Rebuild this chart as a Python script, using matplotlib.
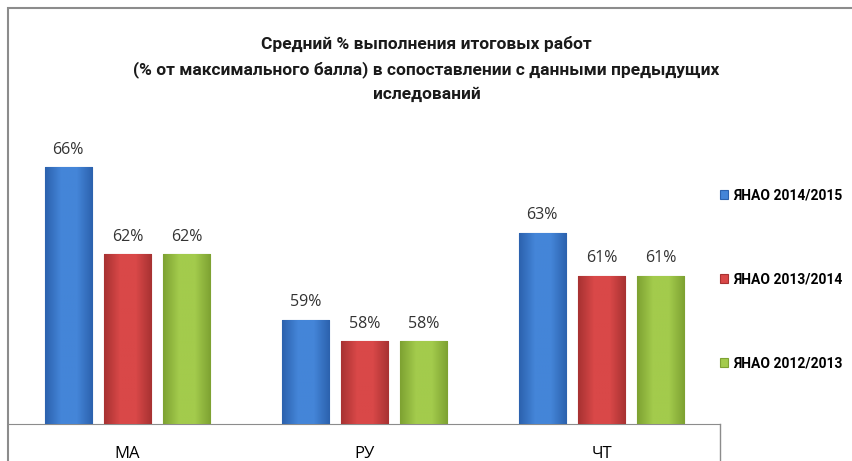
import matplotlib.pyplot as plt
import numpy as np
from matplotlib.colors import LinearSegmentedColormap
from matplotlib.patches import Rectangle
from matplotlib.lines import Line2D

# data
categories = ['МА', 'РУ', 'ЧТ']
series_names = ['ЯНАО 2014/2015', 'ЯНАО 2013/2014', 'ЯНАО 2012/2013']
values_2015 = [66, 59, 63]
values_2014 = [62, 58, 61]
values_2013 = [62, 58, 61]
series_values = [values_2015, values_2014, values_2013]

# (edge, middle) colours of each series
colors = [('#2C62AE', '#4485D8'), ('#A83232', '#D94848'), ('#7EA232', '#A3CB4C')]

title = ('Средний % выполнения итоговых работ\n'
         '(% от максимального балла) в сопоставлении с данными предыдущих\n'
         'иследований')

plt.rcParams['font.family'] = ['Roboto', 'DejaVu Sans']

fig = plt.figure(figsize=(8.53, 4.61), dpi=100)
ax = fig.add_axes([9 / 853, 37 / 461, 711 / 853, 324 / 461])

ymin, ymax = 54.2, 69.1
x = np.arange(len(categories))
width = 0.2
offsets = [-0.25, 0, 0.25]

for vals, off, (dark, light), name in zip(series_values, offsets, colors, series_names):
    bars = ax.bar(x + off, vals, width, color=light, label=name,
                  edgecolor=dark, linewidth=0.8, zorder=2)
    cmap = LinearSegmentedColormap.from_list('g', [dark, light, light, dark])
    grad = np.linspace(0, 1, 64).reshape(1, -1)
    for b, v in zip(bars, vals):
        x0 = b.get_x()
        im = ax.imshow(grad, cmap=cmap, aspect='auto', zorder=3,
                       extent=(x0, x0 + b.get_width(), ymin, b.get_height()))
        im.set_clip_path(b)
        ax.annotate(f'{v}%', (b.get_x() + b.get_width() / 2, v),
                    xytext=(0, 7), textcoords='offset points', ha='center',
                    va='bottom', fontsize=11.5, color='#333333',
                    family=['Open Sans', 'DejaVu Sans'])

ax.set_xlim(-0.5, 2.5)
ax.set_ylim(ymin, ymax)
ax.set_xticks(x)
ax.set_xticklabels(categories, fontsize=12, family=['Open Sans', 'DejaVu Sans'])
ax.tick_params(axis='x', length=0, pad=16)
ax.set_yticks([])
for s in ['top', 'right', 'left']:
    ax.spines[s].set_visible(False)
ax.spines['bottom'].set_color('#8C8C8C')
ax.add_line(Line2D([1, 1], [0, -0.2], transform=ax.transAxes, color='#8C8C8C',
                   lw=1, clip_on=False))

# chart frame
fig.add_artist(Rectangle((8 / 853, -0.1), 1.2, (461 - 8) / 461 + 0.1,
                         transform=fig.transFigure, fill=False,
                         edgecolor='#8C8C8C', lw=1.5))

fig.text(0.5, 1 - 36 / 461, title, ha='center', va='top', fontsize=12.5,
         fontweight='bold', linespacing=1.7, color='#1a1a1a')

fig.legend(loc='upper left', bbox_to_anchor=(720 / 853, 1 - 188 / 461),
           frameon=False, prop={'weight': 'bold', 'size': 10},
           borderpad=0, borderaxespad=0,
           labelspacing=5.05, handlelength=0.6, handleheight=0.6,
           handletextpad=0.35)

fig.savefig('out.png', dpi=100)
